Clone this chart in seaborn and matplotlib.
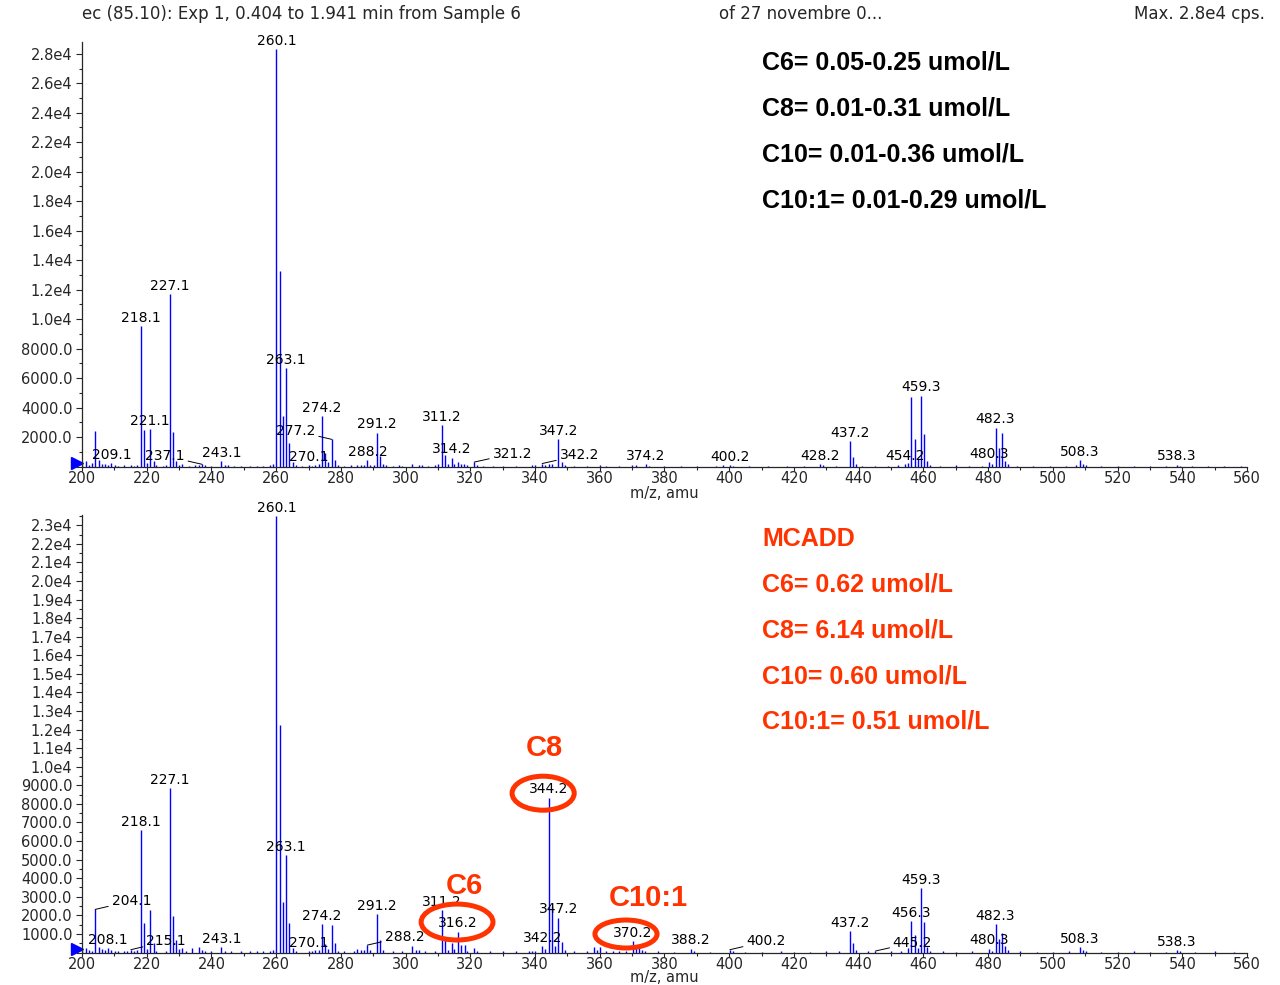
import matplotlib
matplotlib.use("Agg")
import pandas as pd
import matplotlib.pyplot as plt
import seaborn as sns
from matplotlib.patches import Ellipse
from matplotlib.ticker import MultipleLocator, FuncFormatter

# ---- data: reference sample (top spectrum) ----
top_mz = [200.1, 201.1, 202.1, 203.0, 204.1, 205.1, 206.1, 207.0, 208.1, 209.1,
          210.1, 211.0, 213.0, 215.1, 216.0, 217.1, 218.1, 219.1, 220.1, 221.1,
          222.1, 223.0, 225.0, 226.0, 227.1, 228.1, 229.1, 230.1, 231.0, 233.0,
          235.0, 236.0, 237.1, 238.0, 240.0, 243.1, 244.1, 245.0, 247.0, 249.0,
          252.0, 254.0, 256.0, 258.0, 259.1, 260.1, 261.1, 262.1, 263.1, 264.1,
          265.1, 266.0, 268.0, 270.1, 271.0, 272.1, 273.1, 274.2, 275.2, 276.1,
          277.2, 278.2, 279.1, 281.0, 283.0, 285.1, 286.1, 287.1, 288.2, 289.1,
          290.1, 291.2, 292.2, 293.1, 294.0, 296.0, 298.1, 299.0, 302.1, 304.1,
          305.0, 307.0, 309.1, 310.1, 311.2, 312.2, 313.1, 314.2, 315.1, 316.2,
          317.1, 318.1, 319.0, 321.2, 322.1, 324.0, 327.0, 330.0, 334.0, 339.1,
          340.1, 342.2, 343.1, 344.2, 345.2, 347.2, 348.2, 349.1, 352.0, 356.0,
          360.0, 362.0, 366.0, 370.1, 371.1, 374.2, 375.1, 380.0, 385.0, 390.0,
          396.0, 398.1, 400.2, 401.1, 406.0, 412.0, 418.0, 423.0, 428.2, 429.1,
          433.0, 437.2, 438.2, 439.2, 441.0, 445.0, 449.0, 452.1, 454.2, 455.1,
          456.3, 457.3, 458.2, 459.3, 460.3, 461.2, 462.1, 465.0, 470.0, 474.0,
          478.0, 480.3, 481.2, 482.3, 483.3, 484.3, 485.3, 486.2, 489.0, 494.0,
          499.0, 504.0, 507.1, 508.3, 509.3, 510.2, 515.0, 520.0, 525.0, 530.0,
          535.0, 538.3, 539.2, 543.0, 548.0, 553.0, 558.0]
top_int = [150, 370, 120, 250, 2400, 450, 200, 150, 120, 240,
           80, 60, 70, 90, 60, 100, 9500, 2500, 250, 2550,
           400, 80, 60, 120, 11700, 2350, 400, 100, 150, 60,
           80, 120, 150, 80, 60, 370, 100, 80, 60, 50,
           60, 50, 60, 80, 150, 28300, 13250, 3400, 6690, 1600,
           300, 100, 60, 100, 60, 100, 150, 3420, 930, 300,
           1840, 440, 120, 60, 80, 100, 120, 100, 440, 120,
           100, 2290, 710, 150, 80, 60, 120, 60, 150, 120,
           80, 60, 100, 150, 2810, 780, 200, 600, 150, 300,
           200, 150, 80, 300, 80, 60, 50, 60, 50, 120,
           100, 200, 120, 200, 150, 1860, 330, 100, 50, 60,
           80, 60, 50, 100, 80, 170, 60, 50, 60, 50,
           60, 80, 100, 60, 50, 50, 60, 50, 170, 80,
           60, 1730, 670, 150, 60, 60, 60, 80, 170, 250,
           4730, 1860, 500, 4800, 2200, 400, 100, 60, 80, 60,
           60, 300, 150, 2630, 1270, 2250, 400, 150, 60, 50,
           60, 50, 80, 440, 200, 120, 50, 60, 50, 60,
           50, 120, 60, 50, 60, 50, 60]
top_labels = [209.1, 218.1, 221.1, 227.1, 237.1, 243.1, 260.1, 263.1, 270.1,
              274.2, 277.2, 288.2, 291.2, 311.2, 314.2, 321.2, 342.2, 347.2,
              374.2, 400.2, 428.2, 437.2, 454.2, 459.3, 480.3, 482.3, 508.3, 538.3]

# ---- data: MCADD sample (bottom spectrum) ----
bot_mz = [200.1, 201.1, 202.1, 203.0, 204.1, 205.1, 206.1, 207.1, 208.1, 209.1,
          210.1, 211.0, 213.0, 214.0, 215.1, 216.1, 217.1, 218.1, 219.1, 220.1,
          221.1, 222.1, 223.0, 226.0, 227.1, 228.1, 229.1, 230.1, 231.0, 232.0,
          234.0, 236.1, 237.1, 238.0, 240.0, 243.1, 244.1, 246.0, 249.0, 252.0,
          254.0, 256.0, 258.0, 259.1, 260.1, 261.1, 262.1, 263.1, 264.1, 265.1,
          266.0, 270.1, 271.0, 272.1, 273.1, 274.2, 275.2, 276.1, 277.2, 278.2,
          279.1, 281.0, 284.0, 285.1, 286.1, 287.1, 288.2, 289.1, 291.2, 292.2,
          293.1, 296.0, 299.0, 302.1, 303.1, 304.1, 306.0, 309.0, 311.2, 312.2,
          313.1, 314.2, 315.1, 316.2, 317.2, 318.2, 319.1, 321.1, 322.1, 326.0,
          330.0, 334.0, 338.0, 339.1, 340.1, 342.2, 343.1, 344.2, 345.2, 346.2,
          347.2, 348.2, 349.1, 352.0, 356.0, 358.1, 359.1, 360.1, 362.0, 364.0,
          366.0, 368.1, 370.2, 371.2, 372.2, 373.1, 374.1, 378.0, 383.0, 388.2,
          389.1, 394.0, 400.2, 401.1, 405.0, 410.0, 416.0, 420.0, 425.0, 430.0,
          434.0, 437.2, 438.2, 439.1, 443.0, 445.2, 450.0, 453.1, 455.1, 456.3,
          457.3, 458.2, 459.3, 460.3, 461.2, 462.1, 466.0, 470.0, 475.0, 480.3,
          481.2, 482.3, 483.3, 484.3, 485.3, 486.2, 490.0, 495.0, 500.0, 505.0,
          508.3, 509.3, 510.2, 515.0, 520.0, 525.0, 530.0, 535.0, 538.3, 539.2,
          544.0, 550.0, 556.0]
bot_int = [150, 260, 150, 100, 2320, 300, 200, 150, 240, 150,
           100, 80, 60, 100, 150, 100, 150, 6590, 1570, 200,
           2285, 510, 80, 100, 8860, 1960, 670, 200, 250, 80,
           250, 300, 120, 80, 60, 300, 100, 80, 60, 80,
           60, 60, 100, 120, 23500, 12230, 2730, 5240, 1570, 250,
           100, 80, 100, 120, 150, 1530, 440, 200, 1480, 530,
           100, 60, 80, 190, 120, 150, 400, 120, 2050, 670,
           120, 60, 80, 350, 150, 150, 60, 80, 2285, 760,
           150, 530, 200, 1120, 400, 400, 100, 260, 80, 60,
           80, 60, 60, 100, 80, 350, 200, 8340, 2520, 350,
           1870, 580, 150, 60, 80, 270, 150, 310, 100, 80,
           80, 100, 620, 380, 380, 150, 100, 60, 50, 200,
           60, 50, 150, 60, 50, 50, 60, 50, 50, 60,
           60, 1160, 530, 150, 60, 80, 60, 80, 250, 1690,
           940, 250, 3450, 1620, 300, 100, 60, 50, 60, 200,
           100, 1530, 725, 1030, 350, 120, 60, 50, 50, 60,
           280, 150, 100, 50, 50, 60, 50, 50, 120, 60,
           50, 60, 50]
bot_labels = [204.1, 208.1, 215.1, 218.1, 227.1, 243.1, 260.1, 263.1, 270.1,
              274.2, 288.2, 291.2, 311.2, 316.2, 342.2, 344.2, 347.2, 370.2,
              388.2, 400.2, 437.2, 445.2, 456.3, 459.3, 480.3, 482.3, 508.3, 538.3]

ref_lines = ["C6= 0.05-0.25 umol/L", "C8= 0.01-0.31 umol/L",
             "C10= 0.01-0.36 umol/L", "C10:1= 0.01-0.29 umol/L"]
mcadd_lines = ["MCADD", "C6= 0.62 umol/L", "C8= 6.14 umol/L",
               "C10= 0.60 umol/L", "C10:1= 0.51 umol/L"]

# labels that are pushed sideways with a leader line (pixels)
top_shift = {237.1: -37, 277.2: -36, 321.2: 38, 342.2: 37}
bot_shift = {204.1: 36, 215.1: 35, 288.2: 37, 400.2: 36, 445.2: 37}

sns.set_style("ticks")
plt.rcParams["font.family"] = ["DejaVu Sans"]

W, H = 1280, 985
fig = plt.figure(figsize=(12.8, 9.85), dpi=100)
blue = "#0000ff"
red = "#ff3300"


def px_axes(x0, x1, ybot, ytop):
    return fig.add_axes([x0 / W, 1 - ybot / H, (x1 - x0) / W, (ybot - ytop) / H])


def yfmt(v, pos):
    if v <= 0:
        return ""
    if v >= 1e4:
        return f"{v / 1e4:.1f}e4"
    return f"{v:.1f}"


def spectrum(ax, mz, inten, labels, shift, ymax, major, minor, xlab_y):
    df = pd.DataFrame({"mz": mz, "intensity": inten})
    ax.vlines(df["mz"], 0, df["intensity"], color=blue, lw=1.0)
    ax.set_xlim(200, 560)
    ax.set_ylim(0, ymax)
    sns.despine(ax=ax)
    ax.xaxis.set_major_locator(MultipleLocator(20))
    ax.xaxis.set_minor_locator(MultipleLocator(10))
    ax.yaxis.set_major_locator(MultipleLocator(major))
    ax.yaxis.set_minor_locator(MultipleLocator(minor))
    ax.yaxis.set_major_formatter(FuncFormatter(yfmt))
    ax.tick_params(axis="x", which="major", labelsize=10.5, length=3, width=0.8, pad=0.5)
    ax.tick_params(axis="x", which="minor", length=2, width=0.8)
    ax.tick_params(axis="y", which="major", labelsize=10.5, length=4.3, width=0.8, pad=2.5)
    ax.tick_params(axis="y", which="minor", length=2.5, width=0.8)
    for s in ax.spines.values():
        s.set_linewidth(0.9)
    ax.set_xlabel("m/z, amu", fontsize=10.5)
    ax.xaxis.set_label_coords(0.5, xlab_y)
    ax.xaxis.label.set_va("center")
    lookup = dict(zip(df["mz"], df["intensity"]))
    for m in labels:
        dx = shift.get(m, 0) * 0.72
        kw = {}
        if dx:
            kw["arrowprops"] = dict(arrowstyle="-", lw=0.7, color="black",
                                    shrinkA=0, shrinkB=0)
        ax.annotate(f"{m:.1f}", xy=(m, lookup[m]), xytext=(dx, 1.0),
                    textcoords="offset points", ha="center", va="bottom",
                    fontsize=10, color="black", annotation_clip=False, **kw)
    ax.plot([-0.0045], [0.008], marker=">", ms=8, color=blue,
            transform=ax.transAxes, clip_on=False)
    return ax


ax1 = px_axes(82, 1247, 466.5, 42)
spectrum(ax1, top_mz, top_int, top_labels, top_shift, 28800, 2000, 1000,
         (466.5 - 493) / 424.5)

ax2 = px_axes(82, 1247, 952.5, 515)
spectrum(ax2, bot_mz, bot_int, bot_labels, bot_shift, 23550, 1000, 500,
         (952.5 - 977.5) / 437.5)

# header
fig.text(82 / W, 1 - 14 / H, "ec (85.10): Exp 1, 0.404 to 1.941 min from Sample 6",
         fontsize=12, va="center", ha="left")
fig.text(719 / W, 1 - 14 / H, "of 27 novembre 0...", fontsize=12, va="center", ha="left")
fig.text(1265 / W, 1 - 14 / H, "Max. 2.8e4 cps.", fontsize=12, va="center", ha="right")

# concentration blocks
for i, t in enumerate(ref_lines):
    fig.text(762 / W, 1 - (63 + 45.7 * i) / H, t, fontsize=18, weight="bold",
             family="Liberation Sans", va="center", ha="left", color="black")
for i, t in enumerate(mcadd_lines):
    fig.text(762 / W, 1 - (539 + 45.7 * i) / H, t, fontsize=18, weight="bold",
             family="Liberation Sans", va="center", ha="left", color=red)

# highlighted peaks in the MCADD spectrum
for cx, cy, w, h in [(342.5, 8575, 19.2, 1830), (315.9, 1640, 22.2, 1935),
                     (368.1, 995, 19.2, 1505)]:
    ax2.add_patch(Ellipse((cx, cy), w, h, fill=False, ec=red, lw=3.6,
                          clip_on=False, zorder=5))
for x, y, t in [(544, 748, "C8"), (464, 886, "C6"), (648, 898, "C10:1")]:
    fig.text(x / W, 1 - y / H, t, fontsize=21, weight="bold", family="Liberation Sans",
             color=red, ha="center", va="center")

fig.savefig("out.png", dpi=100)
